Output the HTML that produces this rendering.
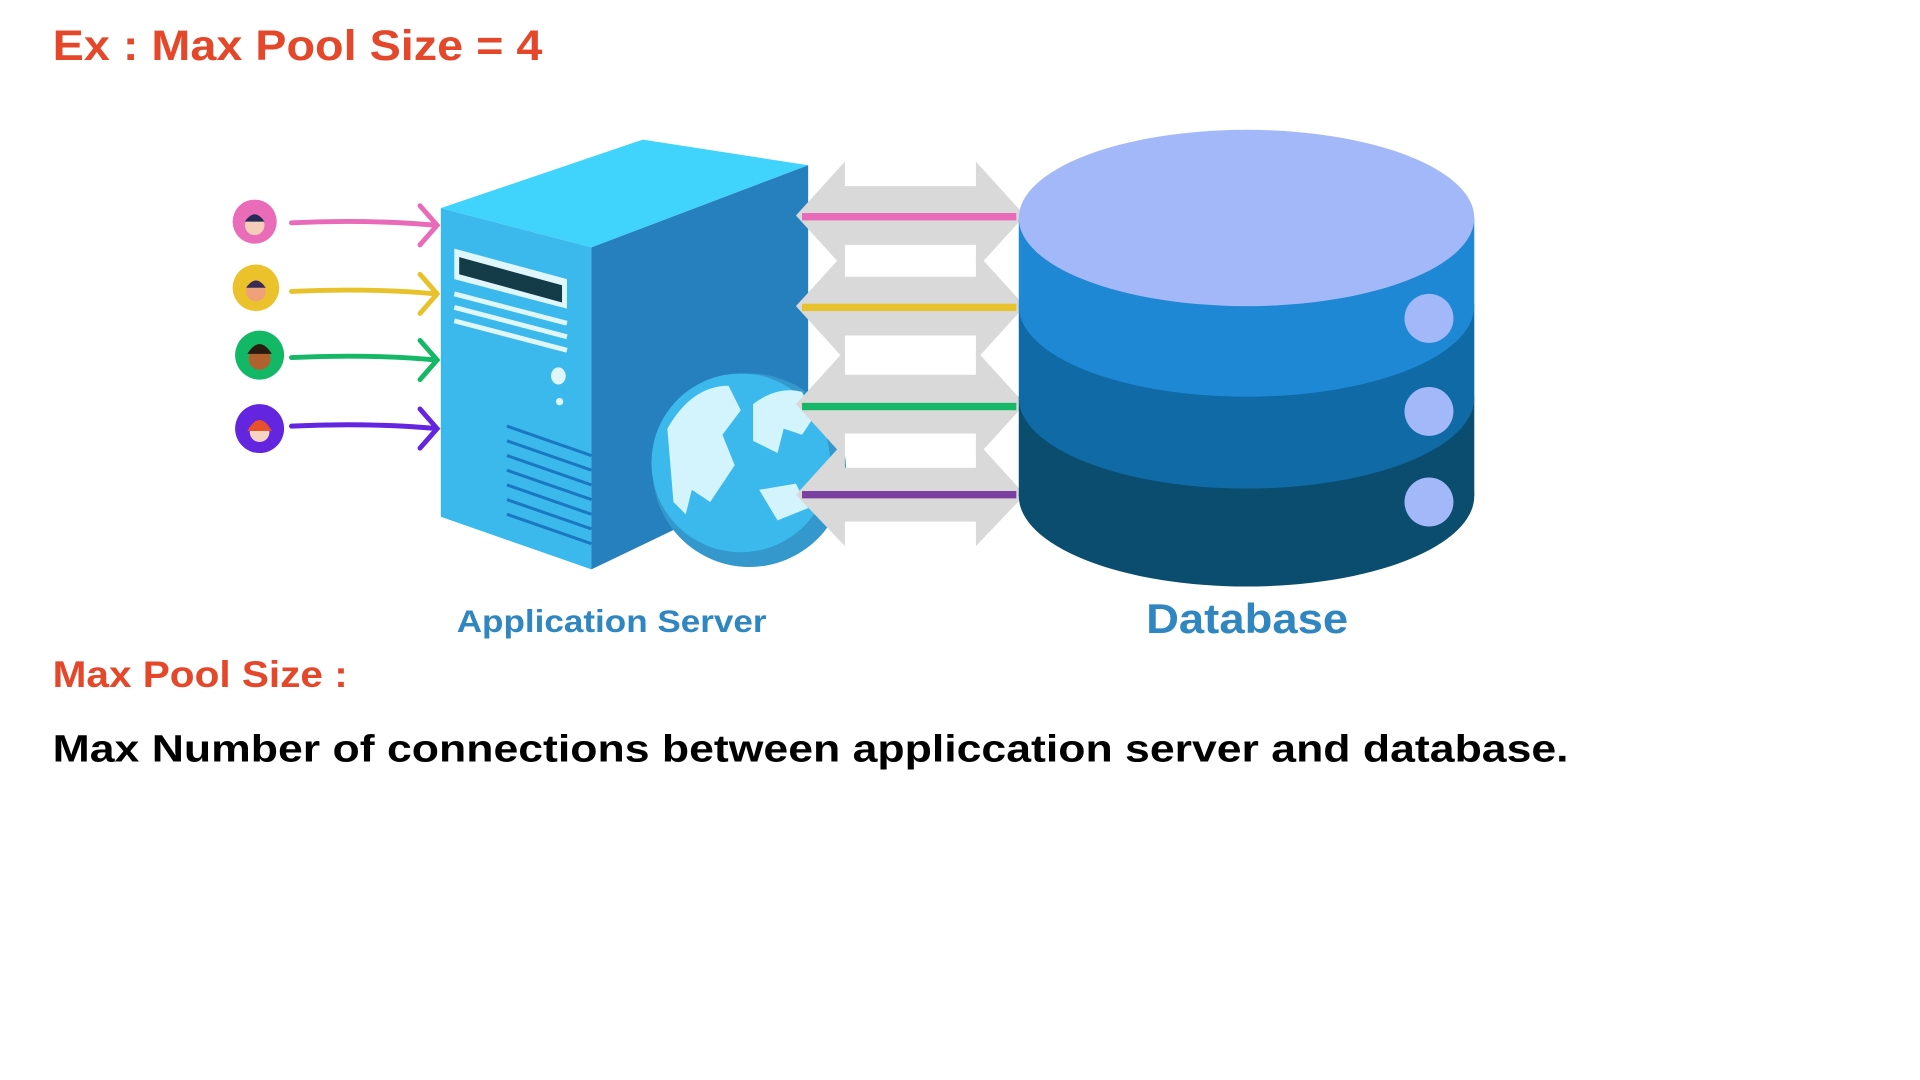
<!DOCTYPE html>
<html><head><meta charset="utf-8"><style>html,body{margin:0;padding:0;background:#fff;}svg{display:block}</style></head>
<body>
<svg width="1920" height="1080" viewBox="0 0 1568 882" xmlns="http://www.w3.org/2000/svg" font-family="Liberation Sans, sans-serif" font-weight="bold">
<rect width="1568" height="882" fill="#fff"/>
<text x="43" y="49" font-size="35" fill="#e4472a" textLength="400" lengthAdjust="spacingAndGlyphs">Ex : Max Pool Size = 4</text>

<g>
<circle cx="208" cy="181" r="18" fill="#ea6cb8"/><circle cx="208" cy="184" r="8" fill="#f6cdb8"/><path d="M200 181 q8 -12 16 0" fill="#222a55"/>
<circle cx="209" cy="235" r="19" fill="#ebc12c"/><circle cx="209" cy="238" r="8" fill="#f0a07a"/><path d="M201 235 q8 -12 16 0" fill="#3a2a55"/>
<circle cx="212" cy="290" r="20" fill="#12b866"/><circle cx="212" cy="293" r="9" fill="#b0612e"/><path d="M202 289 q10 -16 20 0" fill="#2a1a10"/>
<circle cx="212" cy="350" r="20" fill="#6425e0"/><circle cx="212" cy="353" r="8" fill="#f6d4c4"/><path d="M202 352 q10 -18 20 0" fill="#e8502a"/>
</g>
<g fill="none" stroke-width="4" stroke-linecap="round">
<path d="M238 182 Q300 179 357 184 M343 168 L357 184 L343 200" stroke="#e86ab8"/>
<path d="M238 238 Q300 235 357 240 M343 224 L357 240 L343 256" stroke="#e8c22a"/>
<path d="M238 292 Q300 289 357 294 M343 278 L357 294 L343 310" stroke="#14b866"/>
<path d="M238 348 Q300 345 357 350 M343 334 L357 350 L343 366" stroke="#6425e0"/>
</g>

<polygon points="360,170 525,114 660,135 483,202" fill="#40d4fc"/>
<polygon points="360,170 483,202 483,465 360,422" fill="#3bb9ed"/>
<polygon points="483,202 660,135 660,380 483,465" fill="#2680bd"/>
<polygon points="371,203 463,228 463,252 371,228" fill="#dff6fd"/>
<polygon points="375,210 459,233 459,247 375,224" fill="#133c48"/>
<g stroke="#dff6fd" stroke-width="4"><line x1="371" y1="240" x2="463" y2="264"/><line x1="371" y1="251" x2="463" y2="275"/><line x1="371" y1="262" x2="463" y2="286"/></g>
<ellipse cx="456" cy="307" rx="6" ry="7" fill="#dff6fd"/><circle cx="457" cy="328" r="3" fill="#dff6fd"/>
<g stroke="#1a78c0" stroke-width="2.5"><line x1="414" y1="348" x2="483" y2="372"/><line x1="414" y1="360" x2="483" y2="384"/><line x1="414" y1="372" x2="483" y2="396"/><line x1="414" y1="384" x2="483" y2="408"/><line x1="414" y1="396" x2="483" y2="420"/><line x1="414" y1="408" x2="483" y2="432"/><line x1="414" y1="420" x2="483" y2="444"/></g>
<circle cx="612" cy="384" r="79" fill="#3498cc"/>
<circle cx="605" cy="378" r="73" fill="#3bb9ed"/>
<path d="M545 350 q20 -35 50 -35 l10 20 -15 20 10 25 -20 30 -15 -10 -5 20 -10 -10 z" fill="#d4f4fd"/>
<path d="M615 330 q20 -15 40 -10 l10 20 -10 15 -15 -5 -5 20 -20 -10 z" fill="#d4f4fd"/>
<path d="M620 400 l30 -5 10 20 -25 10 z" fill="#d4f4fd"/>

<g fill="#d9d9d9">
<polygon points="650,176 690,132 690,152 797,152 797,132 837,176 797,220 797,200 690,200 690,220"/>
<polygon points="650,250 690,206 690,226 797,226 797,206 837,250 797,294 797,274 690,274 690,294"/>
<polygon points="650,330 690,286 690,306 797,306 797,286 837,330 797,374 797,354 690,354 690,374"/>
<polygon points="650,404 690,360 690,382 797,382 797,360 837,404 797,446 797,426 690,426 690,446"/>
</g>
<rect x="655" y="174" width="175" height="6" fill="#e86ab8"/>
<rect x="655" y="248" width="175" height="6" fill="#e8c22a"/>
<rect x="655" y="329" width="175" height="6" fill="#14b866"/>
<rect x="655" y="401" width="175" height="6" fill="#7b3fa0"/>

<ellipse cx="1018" cy="405" rx="186" ry="74" fill="#0a4d6e"/>
<rect x="832" y="325" width="372" height="80" fill="#0a4d6e"/>
<ellipse cx="1018" cy="325" rx="186" ry="74" fill="#0f6aa5"/>
<rect x="832" y="250" width="372" height="75" fill="#0f6aa5"/>
<ellipse cx="1018" cy="250" rx="186" ry="74" fill="#1e88d4"/>
<rect x="832" y="178" width="372" height="72" fill="#1e88d4"/>
<ellipse cx="1018" cy="178" rx="186" ry="72" fill="#a3b8f8"/>
<circle cx="1167" cy="260" r="20" fill="#a3b8f8"/>
<circle cx="1167" cy="336" r="20" fill="#a3b8f8"/>
<circle cx="1167" cy="410" r="20" fill="#a3b8f8"/>

<text x="373" y="516" font-size="26" fill="#2f86c0" textLength="253" lengthAdjust="spacingAndGlyphs">Application Server</text>
<text x="936" y="517" font-size="34" fill="#2f86c0" textLength="165" lengthAdjust="spacingAndGlyphs">Database</text>
<text x="43" y="561" font-size="30" fill="#e4472a" textLength="241" lengthAdjust="spacingAndGlyphs">Max Pool Size :</text>
<text x="43" y="622" font-size="31" fill="#000" textLength="1238" lengthAdjust="spacingAndGlyphs">Max Number of connections  between appliccation server and database.</text>
</svg>
</body></html>
